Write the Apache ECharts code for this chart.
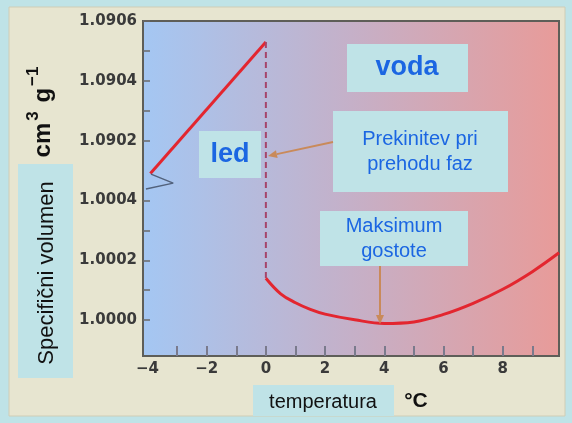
<!DOCTYPE html>
<html>
<head>
<meta charset="utf-8">
<script src="https://cdn.jsdelivr.net/npm/echarts@6/dist/echarts.min.js"></script>
<style>
  html, body { margin: 0; padding: 0; background: #bfe3e7; }
  #chart { width: 572px; height: 423px; }
</style>
</head>
<body>
<div id="chart"></div>
<script>
// led (ice): temperatura in °C, specific volume in cm3/g
const iceTemp = [-3.9, 0]
const iceVol = [1.09009, 1.09053]

// voda (water)
const waterTemp = [0, 0.5, 1, 1.5, 2, 3, 4, 5, 6, 7, 8, 9, 9.9]
const waterVol = [1.00014, 1.000088, 1.000058, 1.000036, 1.00002, 1.000001, 0.999989, 0.999994, 1.000019, 1.000056, 1.000103, 1.000162, 1.000225]

// axis ticks
const xTickValues = [-3, -2, -1, 0, 1, 2, 3, 4, 5, 6, 7, 8, 9]
const xLabelValues = [-4, -2, 0, 2, 4, 6, 8]
const yTickValues = [1.0, 1.0001, 1.0002, 1.0003, 1.0004, 1.0902, 1.0903, 1.0904, 1.0905, 1.0906]
const yLabelValues = [1.0, 1.0002, 1.0004, 1.0902, 1.0904, 1.0906]
const yTickLabels = ['1.0000', '1.0002', '1.0004', '1.0902', '1.0904', '1.0906']

// zigzag of the broken axis (x in °C, y in axis units)
const breakZigzag = [[-3.88, 4.88], [-3.13, 4.58], [-4.05, 4.38]]

// broken y axis: lower part 1.0000..., upper part 1.0902...
const toAxis = v => v > 1.05 ? 6 + (v - 1.0902) / 0.0001 : (v - 1.0) / 0.0001

const chart = echarts.init(document.getElementById('chart'))

const blue = '#1b66e2'
const boxColor = '#bfe3e7'
const arrowColor = '#c98a5a'

function arrow (x1, y1, x2, y2) {
  const len = Math.hypot(x2 - x1, y2 - y1)
  const dx = (x2 - x1) / len
  const dy = (y2 - y1) / len
  const hl = 9, hw = 4
  const bx = x2 - dx * hl, by = y2 - dy * hl
  return [
    {
      type: 'line', z: 20,
      shape: { x1: x1, y1: y1, x2: bx, y2: by },
      style: { stroke: arrowColor, lineWidth: 2 }
    },
    {
      type: 'polygon', z: 20,
      shape: { points: [[x2, y2], [bx - dy * hw, by + dx * hw], [bx + dy * hw, by - dx * hw]] },
      style: { fill: arrowColor }
    }
  ]
}

const labelBox = (x, y, w, h) => ({
  type: 'rect', z: 10,
  shape: { x: x, y: y, width: w, height: h },
  style: { fill: boxColor }
})

const option = {
  backgroundColor: '#bfe3e7',
  animation: false,
  grid: {
    left: 143, top: 21, right: 13, bottom: 67,
    show: true,
    borderColor: '#5e5e58',
    borderWidth: 2,
    backgroundColor: new echarts.graphic.LinearGradient(0, 0, 1, 0, [
      { offset: 0, color: '#a4c7f3' },
      { offset: 0.5, color: '#c5b0c8' },
      { offset: 1, color: '#e89b99' }
    ])
  },
  xAxis: {
    type: 'value',
    min: -4.15,
    max: 9.9,
    splitLine: { show: false },
    axisLine: { onZero: false, lineStyle: { color: '#5e5e58', width: 2 } },
    axisTick: {
      inside: true, length: 10, customValues: xTickValues,
      lineStyle: { color: '#7a7a8c', width: 2 }
    },
    axisLabel: {
      customValues: xLabelValues,
      margin: 6,
      fontFamily: 'DejaVu Sans',
      fontWeight: 'bold',
      fontSize: 15,
      color: '#3a3a3a',
      formatter: v => (v < 0 ? '\u2212' + Math.abs(v) : String(v))
    }
  },
  yAxis: {
    type: 'value',
    min: -1.2,
    max: 10,
    splitLine: { show: false },
    axisLine: { onZero: false, lineStyle: { color: '#5e5e58', width: 2 } },
    axisTick: {
      inside: true, length: 7,
      customValues: yTickValues.map(toAxis),
      lineStyle: { color: '#6a6a6a', width: 1.5 }
    },
    axisLabel: {
      customValues: yLabelValues.map(toAxis),
      margin: 6,
      fontFamily: 'DejaVu Sans',
      fontWeight: 'bold',
      fontSize: 15,
      color: '#3a3a3a',
      formatter: v => {
        const i = yLabelValues.findIndex(y => Math.abs(toAxis(y) - v) < 0.01)
        return i >= 0 ? yTickLabels[i] : ''
      }
    }
  },
  series: [
    {
      name: 'led',
      type: 'line',
      symbol: 'none',
      data: iceTemp.map((t, i) => [t, toAxis(iceVol[i])]),
      lineStyle: { color: '#e3262f', width: 3 }
    },
    {
      name: 'prekinitev',
      type: 'line',
      symbol: 'none',
      data: [[iceTemp[iceTemp.length - 1], toAxis(iceVol[iceVol.length - 1])], [waterTemp[0], toAxis(waterVol[0])]],
      lineStyle: { color: '#a6456a', width: 2, type: [6, 4] }
    },
    {
      name: 'voda',
      type: 'line',
      symbol: 'none',
      smooth: 0.4,
      data: waterTemp.map((t, i) => [t, toAxis(waterVol[i])]),
      lineStyle: { color: '#e3262f', width: 3 }
    },
    {
      name: 'prelom',
      type: 'line',
      symbol: 'none',
      data: breakZigzag,
      lineStyle: { color: '#52627c', width: 1.5 }
    }
  ],
  graphic: [
    // beige panel
    {
      type: 'rect', z: -10, silent: true,
      shape: { x: 9, y: 7, width: 556, height: 409 },
      style: { fill: '#e7e5d0', stroke: '#cfcdb6', lineWidth: 1 }
    },
    // y axis title
    labelBox(18, 164, 55, 214),
    {
      type: 'text', z: 11,
      x: 47, y: 273, rotation: Math.PI / 2,
      style: {
        text: 'Specifični volumen',
        font: '22px "Liberation Sans", Arial, sans-serif',
        fill: '#111', align: 'center', verticalAlign: 'middle'
      }
    },
    {
      type: 'text', z: 11,
      x: 40, y: 111, rotation: Math.PI / 2,
      style: {
        text: '{b|cm}{s|3}{b| g}{s|\u22121}',
        align: 'center', verticalAlign: 'middle',
        rich: {
          b: { fontFamily: 'Liberation Sans', fontWeight: 'bold', fontSize: 24, fill: '#111', lineHeight: 30, verticalAlign: 'bottom' },
          s: { fontFamily: 'Liberation Sans', fontWeight: 'bold', fontSize: 17, fill: '#111', lineHeight: 30, verticalAlign: 'top', padding: [0, 2, 0, 2] }
        }
      }
    },
    // x axis title
    labelBox(253, 385, 141, 31),
    {
      type: 'text', z: 11, x: 323, y: 402,
      style: {
        text: 'temperatura',
        font: '20px "Liberation Sans", Arial, sans-serif',
        fill: '#111', align: 'center', verticalAlign: 'middle'
      }
    },
    {
      type: 'text', z: 11, x: 416, y: 401,
      style: {
        text: '°C',
        font: 'bold 21px "Liberation Sans", Arial, sans-serif',
        fill: '#111', align: 'center', verticalAlign: 'middle'
      }
    },
    // annotations
    labelBox(347, 44, 121, 48),
    {
      type: 'text', z: 11, x: 407, y: 68,
      style: {
        text: 'voda',
        font: 'bold 27px "Liberation Sans", Arial, sans-serif',
        fill: blue, align: 'center', verticalAlign: 'middle'
      }
    },
    labelBox(199, 131, 62, 47),
    {
      type: 'text', z: 11, x: 230, y: 155,
      style: {
        text: 'led',
        font: 'bold 27px "Liberation Sans", Arial, sans-serif',
        fill: blue, align: 'center', verticalAlign: 'middle'
      }
    },
    labelBox(333, 111, 175, 81),
    {
      type: 'text', z: 11, x: 420, y: 152,
      style: {
        text: 'Prekinitev pri\nprehodu faz',
        font: '20px "Liberation Sans", Arial, sans-serif',
        lineHeight: 25,
        fill: blue, align: 'center', verticalAlign: 'middle'
      }
    },
    labelBox(320, 211, 148, 55),
    {
      type: 'text', z: 11, x: 394, y: 239,
      style: {
        text: 'Maksimum\ngostote',
        font: '20px "Liberation Sans", Arial, sans-serif',
        lineHeight: 25,
        fill: blue, align: 'center', verticalAlign: 'middle'
      }
    },
    ...arrow(333, 142, 268, 156),
    ...arrow(380, 266, 380, 324)
  ]
}

chart.setOption(option)
</script>
</body>
</html>
